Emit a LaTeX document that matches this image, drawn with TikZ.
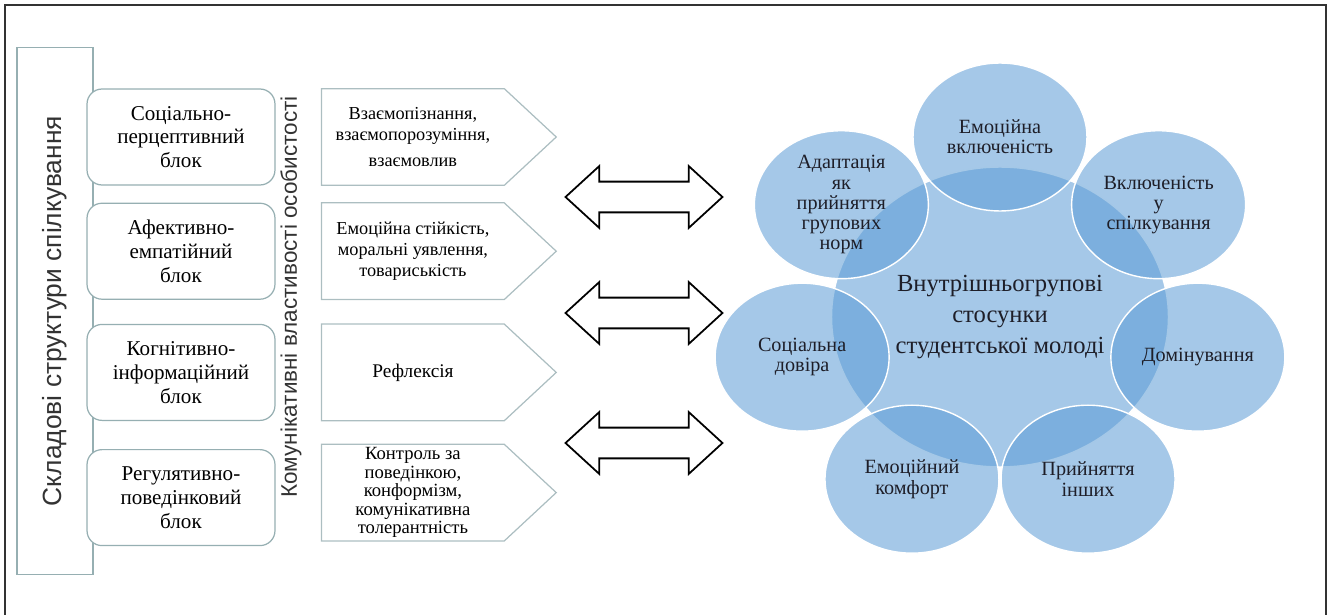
\documentclass[tikz,border=0pt]{standalone}
\usepackage{fontspec}
\setmainfont{Liberation Serif}
\newfontfamily\serifua{Liberation Serif}
\newfontfamily\sansua{Liberation Sans}
\usetikzlibrary{positioning}
\usetikzlibrary{shapes.geometric,shapes.arrows}

\definecolor{bordgray}{RGB}{150,175,178}
\definecolor{pentgray}{RGB}{172,190,193}
\definecolor{circblue}{RGB}{91,155,213}
\definecolor{txtdark}{RGB}{30,30,40}

\begin{document}
\begin{tikzpicture}[x=0.02cm,y=-0.02cm,
    blok/.style={draw=bordgray,line width=0.7pt,fill=white,rounded corners=0.3cm,minimum width=3.76cm,minimum height=1.92cm,align=center,inner sep=1pt,font=\serifua\fontsize{12}{13.5}\selectfont},
    pent/.style={minimum width=3.64cm,minimum height=1.92cm,align=center,inner sep=1pt,font=\serifua\fontsize{10.4}{12}\selectfont},
    vlabel/.style={rotate=90,text=black!80,font=\sansua\fontsize{15}{17}\selectfont},
    dvostr/.style={double arrow,draw=black,line width=1pt,fill=white,minimum height=3.14cm,double arrow head extend=0.31cm,double arrow tip angle=85,inner xsep=0pt,inner ysep=0.29cm},
    kolo/.style={ellipse,draw=white,line width=0.8pt,fill=circblue,fill opacity=0.55,text opacity=1,text=txtdark,minimum width=3.48cm,minimum height=2.96cm,align=center,inner sep=0pt,font=\serifua\fontsize{11.5}{11.5}\selectfont}]
    \useasboundingbox (0,0) rectangle (1330,615);
    \draw[black!80,line width=0.9pt] (5,615) |- (1326,5) -- (1326,615);% frame, open at the bottom

    \node[vlabel,draw=bordgray,line width=0.7pt,minimum width=10.54cm,minimum height=1.52cm] (sklad) at (55,311) {Складові структури спілкування};

    \node[blok] (b1) at (181,137) {Соціально-\\перцептивний\\блок};
    \node[blok] (b2) [below=0.34cm of b1] {Афективно-\\емпатійний\\блок};
    \node[blok] (b3) [below=0.48cm of b2] {Когнітивно-\\інформаційний\\блок};
    \node[blok] (b4) [below=0.56cm of b3] {Регулятивно-\\поведінковий\\блок};

    \node[vlabel,font=\sansua\fontsize{12.8}{15}\selectfont] (komun) at (291,297) {Комунікативні властивості особистості};

    \node[pent] (p1) [right=0.92cm of b1] {Взаємопізнання,\\ взаємопорозуміння,\\[3pt] взаємовлив};
    \node[pent] (p2) [right=0.92cm of b2] {Емоційна стійкість,\\ моральні уявлення,\\ товариськість};
    \node[pent,font=\serifua\fontsize{11}{12}\selectfont] (p3) [right=0.92cm of b3] {Рефлексія};
    \node[pent,font=\serifua\fontsize{10.6}{10.6}\selectfont] (p4) [right=0.92cm of b4,yshift=0.1cm] {Контроль за\\ поведінкою,\\ конформізм,\\ комунікативна\\ толерантність};
    \foreach \n in {1,...,4}
        \draw[pentgray,line width=0.7pt] (p\n.south west) |- (p\n.north east) -- ([xshift=1.04cm]p\n.east) -- (p\n.south east) -- cycle;

    \node[dvostr] (da1) at (644,197) {};
    \node[dvostr] (da2) at (644,313) {};
    \node[dvostr] (da3) at (644,443) {};

    \node[kolo,minimum width=6.74cm,minimum height=6cm,font=\serifua\fontsize{14}{17.5}\selectfont] (centr) at (1000,317) {Внутрішньогрупові\\стосунки\\студентської молоді};
    \foreach \kut/\im/\tekst in {90/emv/{Емоційна\\включеність}, 38.6/vkl/{Включеність\\у\\спілкування}, -12.9/dom/{Домінування}, -64.3/pryj/{Прийняття\\інших}, -115.7/komf/{Емоційний\\комфорт}, -167.1/dov/{Соціальна\\довіра}, 141.4/adap/{Адаптація\\як\\прийняття\\групових\\норм}}
        \node[kolo] (\im) at ({1000+203*cos(\kut)},{317-180*sin(\kut)}) {\tekst};
\end{tikzpicture}
\end{document}
